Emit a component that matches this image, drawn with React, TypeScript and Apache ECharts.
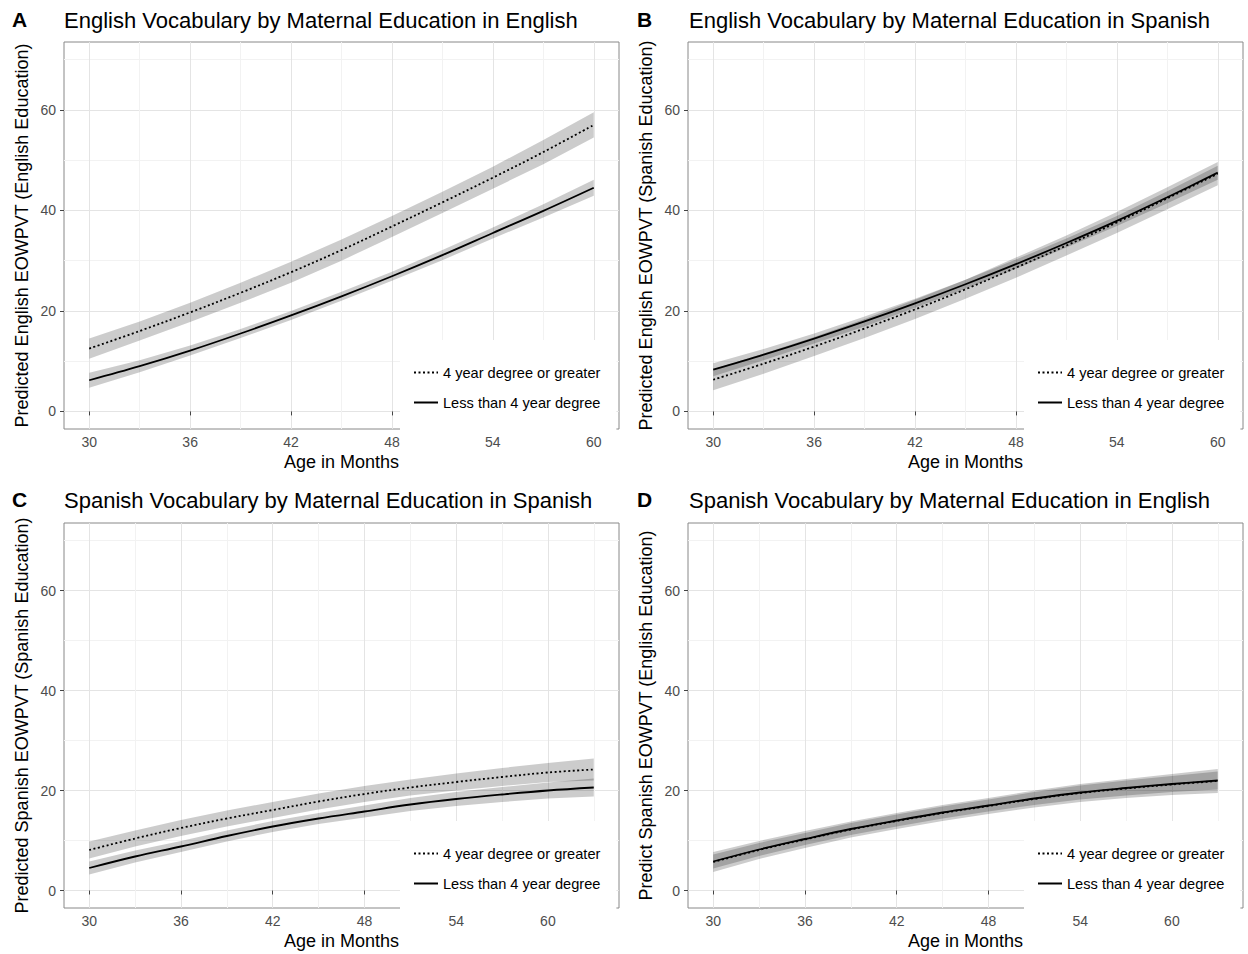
import React, { useEffect, useRef } from "react";
import * as echarts from "echarts";

// ---------- data ----------
const AGES_AB = [30, 33, 36, 39, 42, 45, 48, 51, 54, 57, 60];
const AGES_CD = [30, 33, 36, 39, 42, 45, 48, 51, 54, 57, 60, 63];
const X_TICKS_AB = [30, 36, 42, 48, 54, 60];
const X_MINOR_AB = [33, 39, 45, 51, 57];
const X_TICKS_CD = [30, 36, 42, 48, 54, 60];
const X_MINOR_CD = [33, 39, 45, 51, 57, 63];
const Y_TICKS = [0, 20, 40, 60];
const Y_MINOR = [10, 30, 50, 70];

const SERIES_NAMES = ["4 year degree or greater", "Less than 4 year degree"];
const LETTERS = ["A", "B", "C", "D"];
const TITLES = [
  "English Vocabulary by Maternal Education in English",
  "English Vocabulary by Maternal Education in Spanish",
  "Spanish Vocabulary by Maternal Education in Spanish",
  "Spanish Vocabulary by Maternal Education in English",
];
const Y_NAMES = [
  "Predicted English EOWPVT (English Education)",
  "Predicted English EOWPVT (Spanish Education)",
  "Predicted Spanish EOWPVT (Spanish Education)",
  "Predict Spanish EOWPVT (English Education)",
];
const X_NAME = "Age in Months";

// Panel A
const A_DEG = [12.5, 16.0, 19.7, 23.6, 27.7, 32.1, 36.8, 41.6, 46.5, 51.6, 57.0];
const A_DEG_LO = [10.5, 14.1, 17.8, 21.6, 25.6, 30.0, 34.7, 39.5, 44.3, 49.2, 54.5];
const A_DEG_HI = [14.5, 17.9, 21.6, 25.6, 29.8, 34.2, 38.9, 43.7, 48.7, 54.0, 59.5];
const A_LESS = [6.2, 9.0, 12.1, 15.5, 19.1, 22.9, 26.9, 31.1, 35.5, 39.9, 44.5];
const A_LESS_LO = [4.7, 7.8, 11.1, 14.6, 18.2, 22.0, 26.0, 30.1, 34.4, 38.6, 42.9];
const A_LESS_HI = [7.7, 10.2, 13.1, 16.4, 20.0, 23.8, 27.8, 32.1, 36.6, 41.2, 46.1];

// Panel B
const B_DEG = [6.3, 9.5, 12.9, 16.5, 20.3, 24.3, 28.6, 33.0, 37.6, 42.4, 47.3];
const B_DEG_LO = [4.2, 7.5, 11.0, 14.6, 18.4, 22.4, 26.6, 31.0, 35.5, 40.2, 45.0];
const B_DEG_HI = [8.4, 11.5, 14.8, 18.4, 22.2, 26.2, 30.6, 35.0, 39.7, 44.6, 49.6];
const B_LESS = [8.3, 11.3, 14.5, 17.9, 21.5, 25.3, 29.3, 33.5, 37.9, 42.6, 47.5];
const B_LESS_LO = [7.0, 10.2, 13.5, 16.9, 20.6, 24.4, 28.4, 32.6, 36.9, 41.4, 46.1];
const B_LESS_HI = [9.6, 12.4, 15.5, 18.9, 22.4, 26.2, 30.2, 34.4, 38.9, 43.8, 48.9];

// Panel C
const C_DEG = [8.1, 10.4, 12.5, 14.4, 16.1, 17.8, 19.3, 20.6, 21.7, 22.7, 23.6, 24.2];
const C_DEG_LO = [6.4, 8.8, 10.9, 12.8, 14.5, 16.2, 17.7, 19.0, 20.0, 20.9, 21.7, 22.0];
const C_DEG_HI = [9.8, 12.0, 14.1, 16.0, 17.7, 19.4, 20.9, 22.2, 23.4, 24.5, 25.5, 26.4];
const C_LESS = [4.5, 6.8, 8.8, 10.9, 12.8, 14.4, 15.8, 17.2, 18.3, 19.2, 20.0, 20.6];
const C_LESS_LO = [3.2, 5.6, 7.7, 9.8, 11.7, 13.3, 14.6, 15.9, 16.9, 17.7, 18.4, 18.8];
const C_LESS_HI = [5.8, 8.0, 9.9, 12.0, 13.9, 15.5, 17.0, 18.5, 19.7, 20.7, 21.6, 22.4];

// Panel D
const D_DEG = [5.7, 8.1, 10.2, 12.2, 13.9, 15.5, 16.9, 18.3, 19.5, 20.4, 21.2, 21.9];
const D_DEG_LO = [3.7, 6.3, 8.5, 10.6, 12.3, 13.9, 15.3, 16.6, 17.7, 18.5, 19.1, 19.5];
const D_DEG_HI = [7.7, 9.9, 11.9, 13.8, 15.5, 17.1, 18.5, 20.0, 21.3, 22.3, 23.3, 24.3];
const D_LESS = [5.8, 8.2, 10.3, 12.3, 14.0, 15.6, 17.0, 18.4, 19.6, 20.5, 21.3, 22.0];
const D_LESS_LO = [4.4, 6.9, 9.1, 11.1, 12.8, 14.4, 15.8, 17.1, 18.2, 19.0, 19.7, 20.2];
const D_LESS_HI = [7.2, 9.5, 11.5, 13.5, 15.2, 16.8, 18.2, 19.7, 21.0, 22.0, 22.9, 23.8];

// ---------- layout / style ----------
const FONT = "'Liberation Sans', Arial, Helvetica, sans-serif";
const BAND_FILL = "rgba(0,0,0,0.2)";

type PanelDef = {
  ages: number[];
  xTicks: number[];
  xMinor: number[];
  xMin: number;
  xMax: number;
  deg: number[];
  degLo: number[];
  degHi: number[];
  less: number[];
  lessLo: number[];
  lessHi: number[];
};

const PANELS: PanelDef[] = [
  { ages: AGES_AB, xTicks: X_TICKS_AB, xMinor: X_MINOR_AB, xMin: 28.5, xMax: 61.5,
    deg: A_DEG, degLo: A_DEG_LO, degHi: A_DEG_HI, less: A_LESS, lessLo: A_LESS_LO, lessHi: A_LESS_HI },
  { ages: AGES_AB, xTicks: X_TICKS_AB, xMinor: X_MINOR_AB, xMin: 28.5, xMax: 61.5,
    deg: B_DEG, degLo: B_DEG_LO, degHi: B_DEG_HI, less: B_LESS, lessLo: B_LESS_LO, lessHi: B_LESS_HI },
  { ages: AGES_CD, xTicks: X_TICKS_CD, xMinor: X_MINOR_CD, xMin: 28.35, xMax: 64.65,
    deg: C_DEG, degLo: C_DEG_LO, degHi: C_DEG_HI, less: C_LESS, lessLo: C_LESS_LO, lessHi: C_LESS_HI },
  { ages: AGES_CD, xTicks: X_TICKS_CD, xMinor: X_MINOR_CD, xMin: 28.35, xMax: 64.65,
    deg: D_DEG, degLo: D_DEG_LO, degHi: D_DEG_HI, less: D_LESS, lessLo: D_LESS_LO, lessHi: D_LESS_HI },
];

const GRID_POS = [
  { left: 64, top: 42, width: 555, height: 387 },
  { left: 688, top: 42, width: 555, height: 387 },
  { left: 64, top: 523, width: 555, height: 385 },
  { left: 688, top: 523, width: 555, height: 385 },
];
const COL_X = [12, 637];
const TITLE_X = [64, 689];
const ROW_TITLE_Y = [9, 489];
const LEGEND_POS = [
  { left: 400, top: 340 },
  { left: 1024, top: 340 },
  { left: 400, top: 821 },
  { left: 1024, top: 821 },
];

function bandSeries(p: number, ages: number[], lo: number[], hi: number[]) {
  return {
    type: "custom",
    xAxisIndex: p * 2,
    yAxisIndex: p * 2,
    silent: true,
    z: 1,
    data: ages.map((a, i) => [a, lo[i], hi[i]]),
    encode: { x: 0, y: [1, 2] },
    renderItem: (params: any, api: any) => {
      if (params.dataIndex !== 0) return null;
      const pts: number[][] = [];
      for (let i = 0; i < ages.length; i++) pts.push(api.coord([ages[i], hi[i]]));
      for (let i = ages.length - 1; i >= 0; i--) pts.push(api.coord([ages[i], lo[i]]));
      return { type: "polygon", shape: { points: pts }, style: { fill: BAND_FILL } };
    },
  };
}

function lineSeries(p: number, name: string, ages: number[], vals: number[], dotted: boolean) {
  return {
    type: "line",
    name,
    xAxisIndex: p * 2,
    yAxisIndex: p * 2,
    data: ages.map((a, i) => [a, vals[i]]),
    smooth: 0.35,
    symbol: "none",
    showSymbol: false,
    z: 3,
    lineStyle: { color: "#000", width: 1.8, type: dotted ? [2, 2.5] : "solid" },
    itemStyle: { color: "#000" },
    emphasis: { disabled: true },
  };
}

function buildOption() {
  const grid: any[] = [];
  const xAxis: any[] = [];
  const yAxis: any[] = [];
  const series: any[] = [];
  const legend: any[] = [];
  const title: any[] = [];

  PANELS.forEach((pd, p) => {
    grid.push({ ...GRID_POS[p], show: true, borderColor: "#888", borderWidth: 1, backgroundColor: "transparent" });

    xAxis.push({
      type: "value", gridIndex: p, min: pd.xMin, max: pd.xMax, position: "bottom",
      name: X_NAME, nameLocation: "middle", nameGap: 24,
      nameTextStyle: { fontSize: 18, color: "#000", fontFamily: FONT },
      axisLine: { show: false },
      axisTick: { show: true, length: 4, lineStyle: { color: "#444" }, customValues: pd.xTicks },
      axisLabel: { customValues: pd.xTicks, color: "#4d4d4d", fontSize: 14, margin: 6, fontFamily: FONT },
      splitLine: { show: true, lineStyle: { color: "#e4e4e4", width: 1 } },
    });
    xAxis.push({
      type: "value", gridIndex: p, min: pd.xMin, max: pd.xMax, position: "top",
      axisLine: { show: false },
      axisTick: { show: false, customValues: pd.xMinor },
      axisLabel: { show: false, customValues: pd.xMinor },
      splitLine: { show: true, lineStyle: { color: "#f2f2f2", width: 1 } },
    });

    yAxis.push({
      type: "value", gridIndex: p, min: -3.5, max: 73.5, position: "left",
      name: Y_NAMES[p], nameLocation: "middle", nameGap: 33,
      nameTextStyle: { fontSize: 18, color: "#000", fontFamily: FONT },
      axisLine: { show: false },
      axisTick: { show: true, length: 4, lineStyle: { color: "#444" }, customValues: Y_TICKS },
      axisLabel: { customValues: Y_TICKS, color: "#4d4d4d", fontSize: 14, margin: 8, fontFamily: FONT },
      splitLine: { show: true, lineStyle: { color: "#e4e4e4", width: 1 } },
    });
    yAxis.push({
      type: "value", gridIndex: p, min: -3.5, max: 73.5, position: "right",
      axisLine: { show: false },
      axisTick: { show: false, customValues: Y_MINOR },
      axisLabel: { show: false, customValues: Y_MINOR },
      splitLine: { show: true, lineStyle: { color: "#f2f2f2", width: 1 } },
    });

    series.push(bandSeries(p, pd.ages, pd.degLo, pd.degHi));
    series.push(bandSeries(p, pd.ages, pd.lessLo, pd.lessHi));
    series.push(lineSeries(p, SERIES_NAMES[0], pd.ages, pd.deg, true));
    series.push(lineSeries(p, SERIES_NAMES[1], pd.ages, pd.less, false));

    legend.push({
      data: SERIES_NAMES,
      orient: "vertical",
      left: LEGEND_POS[p].left,
      top: LEGEND_POS[p].top,
      padding: [25, 16, 20, 13],
      itemGap: 15,
      itemWidth: 24,
      itemHeight: 14,
      backgroundColor: "#fff",
      selectedMode: false,
      itemStyle: { color: "rgba(0,0,0,0)", borderColor: "rgba(0,0,0,0)", borderWidth: 0, opacity: 0 },
      textStyle: { fontSize: 14.6, color: "#000", fontFamily: FONT, lineHeight: 14 },
    });

    const col = p % 2;
    const row = Math.floor(p / 2);
    title.push({
      text: LETTERS[p], left: COL_X[col], top: ROW_TITLE_Y[row], padding: 0,
      textStyle: { fontSize: 21, fontWeight: "bold", color: "#000", fontFamily: FONT },
    });
    title.push({
      text: TITLES[p], left: TITLE_X[col], top: ROW_TITLE_Y[row], padding: 0,
      textStyle: { fontSize: 22, fontWeight: "normal", color: "#000", fontFamily: FONT },
    });
  });

  return { animation: false, backgroundColor: "#fff", grid, xAxis, yAxis, series, legend, title };
}

export default function App() {
  const ref = useRef<HTMLDivElement>(null);
  useEffect(() => {
    if (!ref.current) return;
    const chart = echarts.init(ref.current, undefined, { renderer: "svg" });
    chart.setOption(buildOption() as any);
    return () => chart.dispose();
  }, []);
  return (
    <div
      ref={ref}
      style={{ position: "absolute", left: 0, top: 0, width: 1248, height: 954, background: "#fff" }}
    />
  );
}
